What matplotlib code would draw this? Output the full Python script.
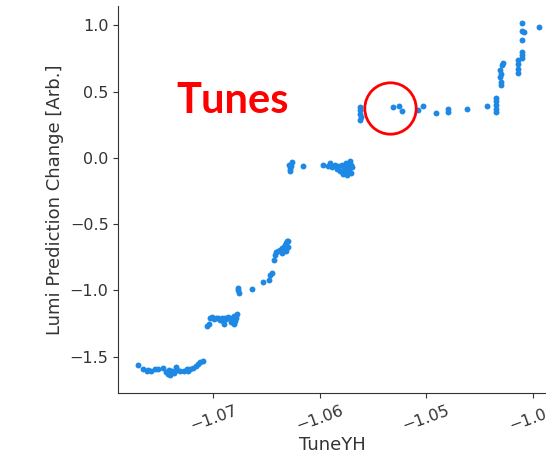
import matplotlib
matplotlib.use("Agg")
import matplotlib.pyplot as plt

# Dependence of the lumi prediction on the vertical tune (TuneYH)
tune_yh = [
    # low plateau
    -1.07704, -1.07657, -1.07625, -1.07613, -1.07585, -1.07547, -1.07518, -1.07470, -1.07442,
    -1.07423, -1.07413, -1.07403, -1.07394, -1.07384, -1.07365, -1.07346, -1.07336, -1.07317,
    -1.07279, -1.07250, -1.07241, -1.07221, -1.07193, -1.07164, -1.07145, -1.07126, -1.07096,
    # first step
    -1.07059, -1.07039, -1.07030, -1.07011, -1.06992, -1.06972, -1.06953, -1.06934, -1.06915,
    -1.06905, -1.06896, -1.06886, -1.06877, -1.06857, -1.06838, -1.06829, -1.06819, -1.06810,
    -1.06810, -1.06800, -1.06800, -1.06790, -1.06781,
    # rise
    -1.06771, -1.06771, -1.06762, -1.06637, -1.06532, -1.06474, -1.06465, -1.06446,
    -1.06427, -1.06417, -1.06407, -1.06388, -1.06369, -1.06350, -1.06340, -1.06331,
    -1.06321, -1.06312, -1.06302, -1.06302, -1.06321, -1.06359,
    # near zero
    -1.06292, -1.06283, -1.06283, -1.06264, -1.06273, -1.06158, -1.05967, -1.05919, -1.05900,
    -1.05881, -1.05861, -1.05842, -1.05823, -1.05814, -1.05794, -1.05785, -1.05775, -1.05766,
    -1.05756, -1.05746, -1.05746, -1.05737, -1.05727, -1.05718, -1.05708, -1.05708, -1.05699,
    # upper plateau
    -1.05622, -1.05622, -1.05622, -1.05612, -1.05622,
    -1.05310, -1.05254, -1.05225, -1.05076, -1.05028, -1.04908, -1.04794, -1.04794,
    -1.04621, -1.04427, -1.04348, -1.04348, -1.04348, -1.04348, -1.04348,
    # final rise
    -1.04277, -1.04291, -1.04310, -1.04310, -1.04300, -1.04300, -1.04300,
    -1.04142, -1.04142, -1.04142, -1.04142,
    -1.04104, -1.04104, -1.04104, -1.04104, -1.04104, -1.04104, -1.04080, -1.03939,
]
lumi_change = [
    -1.56, -1.595, -1.61, -1.60, -1.605, -1.595, -1.59, -1.585, -1.615,
    -1.63, -1.60, -1.64, -1.62, -1.61, -1.625, -1.58, -1.60, -1.61,
    -1.605, -1.595, -1.61, -1.59, -1.585, -1.57, -1.555, -1.54, -1.535,
    -1.27, -1.25, -1.21, -1.20, -1.215, -1.21, -1.205, -1.22, -1.21,
    -1.23, -1.25, -1.205, -1.215, -1.20, -1.21, -1.24, -1.22, -1.19,
    -1.25, -1.23, -1.20, -1.21, -1.18,
    -0.98, -1.00, -1.02, -0.99, -0.938, -0.92, -0.88, -0.866,
    -0.77, -0.73, -0.707, -0.70, -0.694, -0.68, -0.669, -0.655,
    -0.64, -0.63, -0.624, -0.669, -0.70, -0.72,
    -0.05, -0.08, -0.10, -0.03, -0.06, -0.06, -0.05, -0.06, -0.04,
    -0.07, -0.05, -0.08, -0.06, -0.10, -0.05, -0.12, -0.07, -0.09,
    -0.04, -0.13, -0.06, -0.10, -0.08, -0.02, -0.11, -0.05, -0.07,
    0.385, 0.36, 0.33, 0.31, 0.29,
    0.383, 0.395, 0.355, 0.362, 0.392, 0.337, 0.367, 0.345,
    0.37, 0.39, 0.453, 0.43, 0.40, 0.37, 0.347,
    0.719, 0.70, 0.664, 0.614, 0.576, 0.551, 0.63,
    0.74, 0.71, 0.67, 0.64,
    0.80, 0.775, 0.755, 1.02, 0.96, 0.89, 0.953, 0.99,
]

x_ticks = [-1.07, -1.06, -1.05, -1.04]
y_ticks = [-1.5, -1.0, -0.5, 0.0, 0.5, 1.0]
x_label = "TuneYH"
y_label = "Lumi Prediction Change [Arb.]"
note_text = "Tunes"
note_pos = (-1.0682, 0.34)
highlight_pos = (-1.05336, 0.374)

point_color = "#1E88E5"
axis_color = "#333333"

fig = plt.figure(figsize=(5.46, 4.61), dpi=100)
ax = fig.add_axes([118.3 / 546, 68 / 461, (546 - 118.3) / 546, 387 / 461])

ax.scatter(tune_yh, lumi_change, s=18, color=point_color, linewidths=0, zorder=3)

ax.set_xlim(-1.07892, -1.03875)
ax.set_ylim(-1.774, 1.147)
ax.set_xticks(x_ticks)
ax.set_yticks(y_ticks)
ax.set_xlabel(x_label, fontsize=13, color=axis_color, labelpad=2)
ax.set_ylabel(y_label, fontsize=13, color=axis_color)

for side in ("top", "right"):
    ax.spines[side].set_visible(False)
for side in ("left", "bottom"):
    ax.spines[side].set_color(axis_color)
ax.tick_params(labelsize=11.5, colors=axis_color, labelcolor=axis_color)
plt.setp(ax.get_xticklabels(), rotation=20)

ax.text(note_pos[0], note_pos[1], note_text, color="#FF0000", fontsize=30,
        fontweight="bold", family=["Lato", "DejaVu Sans"], ha="center", va="baseline")
ax.plot([highlight_pos[0]], [highlight_pos[1]], marker="o", markersize=37,
        markerfacecolor="none", markeredgecolor="#FF0000", markeredgewidth=2.0,
        linestyle="none", zorder=4)

fig.savefig("out.png", dpi=100)
